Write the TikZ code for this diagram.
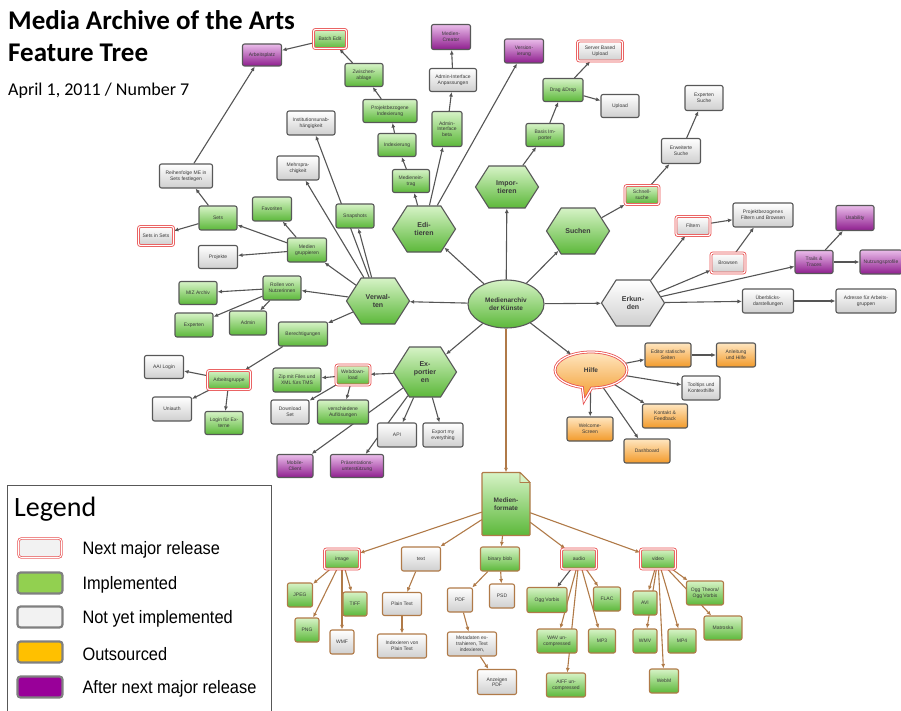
\documentclass[tikz,border=0pt]{standalone}
\usepackage{fontspec}
\usepackage{graphicx}
\setmainfont{Carlito}
\newfontfamily\arialf{Liberation Sans}
\usetikzlibrary{shapes.symbols,shapes.callouts,shapes.geometric,arrows.meta,backgrounds}
\definecolor{grtop}{HTML}{D6F3C6}
\definecolor{grbot}{HTML}{5CB83A}
\definecolor{gybot}{HTML}{CFCFCF}
\definecolor{putop}{HTML}{EABCEA}
\definecolor{pubot}{HTML}{8E1E8E}
\definecolor{ogtop}{HTML}{FFE6C0}
\definecolor{ogbot}{HTML}{F29A2A}
\definecolor{bordc}{HTML}{585858}
\definecolor{edgec}{HTML}{555555}
\definecolor{brc}{HTML}{B07A48}
\definecolor{nxred}{HTML}{E84E4E}
\definecolor{txtc}{HTML}{3A3A3A}
\definecolor{lggreen}{HTML}{92D050}
\definecolor{lggray}{HTML}{F2F2F2}
\definecolor{lgorange}{HTML}{FFC000}
\definecolor{lgpurple}{HTML}{990099}
\definecolor{lgbord}{HTML}{808080}
\begin{document}
\begin{tikzpicture}[x=1pt,y=-1pt,
  box/.style={rectangle, rounded corners=2pt, draw=bordc, line width=1.1pt,
    minimum width=38pt, minimum height=23pt, inner sep=0.5pt, align=center,
    font=\arialf\fontsize{5}{5.6}\selectfont, text=txtc},
  gr/.style={box, top color=grtop, bottom color=grbot},
  gy/.style={box, top color=white, bottom color=gybot},
  pu/.style={box, top color=putop, bottom color=pubot},
  og/.style={box, top color=ogtop, bottom color=ogbot},
  nx/.style={draw=nxred, double=white, double distance=1.2pt, line width=0.8pt},
  bb/.style={draw=brc},
  hex/.style={signal, signal to=east and west, signal pointer angle=115,
    draw=bordc, line width=1.1pt, top color=grtop, bottom color=grbot,
    font=\arialf\bfseries\fontsize{7}{8}\selectfont, align=center, inner sep=0pt,
    text=txtc, minimum width=63pt, minimum height=46pt},
  ar/.style={-{Latex[length=4.5pt,width=4pt]}, line width=1.1pt, draw=edgec},
  ab/.style={ar, draw=brc},
  lgbox/.style={rectangle, rounded corners=3pt, minimum width=45pt, minimum height=21pt, line width=2.2pt, draw=lgbord},
  lgtext/.style={anchor=west, font=\arialf\fontsize{18}{18}\selectfont, text=black}
]
\useasboundingbox (0,0) rectangle (901,711);

% title
\node[anchor=base west, font=\bfseries\fontsize{27}{27}\selectfont, inner sep=0pt] (t1) at (8,30) {Media Archive of the Arts};
\node[anchor=base west, font=\bfseries\fontsize{27}{27}\selectfont, inner sep=0pt] (t2) at (8,62) {Feature Tree};
\node[anchor=base west, font=\fontsize{18}{18}\selectfont, inner sep=0pt] (t3) at (8,96) {April 1, 2011 / Number 7};

% root
\node[ellipse, draw=bordc, line width=1.1pt, top color=grtop, bottom color=grbot, minimum width=76pt, minimum height=48pt, inner sep=0pt, align=center, font=\arialf\bfseries\fontsize{6.5}{8}\selectfont, text=txtc] (root) at (506,304) {Medienarchiv\\der Künste};

% hexagons
\node[hex] (edi) at (424,229) {Edi-\\tieren};
\node[hex, minimum height=42pt] (imp) at (507,187) {Impor-\\tieren};
\node[hex] (such) at (578,231) {Suchen};
\node[hex] (verw) at (378,301) {Verwal-\\ten};
\node[hex, top color=white, bottom color=gybot] (erk) at (633,303) {Erkun-\\den};
\node[hex, minimum height=50pt] (exp) at (425,372) {Ex-\\portier\\en};

% Editieren branch
\node[gr, minimum width=37pt] (medein) at (411,181) {Medienein-\\trag};
\node[gr] (index) at (397,145) {Indexierung};
\node[gr, minimum width=54pt] (pindex) at (390,111) {Projektbezogene\\Indexierung};
\node[gr] (zwab) at (364,75) {Zwischen-\\ablage};
\node[gr, nx, minimum width=33pt, minimum height=19pt] (batch) at (330,39) {Batch Edit};
\node[pu, minimum width=39pt, minimum height=22pt] (arbpl) at (262,55) {Arbeitsplatz};
\node[gr, minimum width=30pt, minimum height=35pt] (aib) at (447,129) {Admin-\\Interface\\beta};
\node[gy, minimum width=47pt] (aia) at (453,80) {Admin-Interface\\Anpassungen};
\node[pu, minimum width=39pt, minimum height=25pt] (mcr) at (451,37) {Medien-\\Creator};
\node[pu, minimum width=39pt, minimum height=24pt] (vers) at (524,51) {Version-\\ierung};

% Importieren branch
\node[gr] (basis) at (545,135) {Basis Im-\\porter};
\node[gr, minimum width=40pt] (dnd) at (563,90) {Drag \&Drop};
\node[gy, nx, minimum width=45pt, minimum height=20pt] (sbu) at (600,51) {Server Based\\Upload};
\node[gy] (upl) at (620,106) {Upload};

% Suchen branch
\node[gr, nx, minimum width=34pt, minimum height=19pt] (schnell) at (642,195) {Schnell-\\suche};
\node[gy, minimum width=39pt, minimum height=25pt] (erw) at (681,151) {Erweiterte\\Suche};
\node[gy, minimum height=25pt] (expsu) at (704,98) {Experten\\Suche};

% Erkunden branch
\node[gy, nx, minimum width=34pt, minimum height=19pt] (filt) at (693,226) {Filtern};
\node[gy, minimum width=60pt, minimum height=24pt] (pfb) at (763,215) {Projektbezogenes\\Filtern und Browsen};
\node[gy, nx, minimum width=34pt, minimum height=20pt] (brow) at (728,263) {Browsen};
\node[pu] (trails) at (814,262) {Trails \&\\Traces};
\node[pu, minimum height=25pt] (usab) at (855,218) {Usability};
\node[pu, minimum width=42pt, minimum height=24pt] (nutz) at (881,262) {Nutzungsprofile};
\node[gy, minimum width=51pt, minimum height=24pt] (ueb) at (768,301) {Überblicks-\\darstellungen};
\node[gy, minimum width=60pt, minimum height=24pt] (adr) at (866,301) {Adresse für Arbeits-\\gruppen};

% Verwalten branch
\node[gr, minimum height=24pt] (snap) at (355,216) {Snapshots};
\node[gy, minimum width=42pt, minimum height=24pt] (mehr) at (298,168) {Mehrspra-\\chigkeit};
\node[gy, minimum width=48pt, minimum height=24pt] (inst) at (311,123) {Institutionsunab-\\hängigkeit};
\node[gr, minimum width=39pt, minimum height=24pt] (medgr) at (307,250) {Medien\\gruppieren};
\node[gr, minimum width=39pt, minimum height=24pt] (fav) at (272,209) {Favoriten};
\node[gr, minimum height=24pt] (sets) at (218,218) {Sets};
\node[gy, nx, minimum width=35pt, minimum height=19pt] (setsin) at (156,236) {Sets in Sets};
\node[gy, minimum width=53pt, minimum height=24pt] (reih) at (186,176) {Reihenfolge ME in\\Sets festlegen};
\node[gy, minimum width=39pt] (proj) at (218,257) {Projekte};
\node[gr, minimum height=24pt] (rollen) at (282,288) {Rollen von\\Nutzerinnen};
\node[gr] (miz) at (198,293) {MIZ Archiv};
\node[gr, minimum height=24pt] (expt) at (194,325) {Experten};
\node[gr, minimum width=37pt, minimum height=24pt] (admin) at (248,323) {Admin};
\node[gr, minimum width=49pt, minimum height=24pt] (berech) at (303,334) {Berechtigungen};
\node[gr, nx, minimum width=43pt, minimum height=19pt] (arbgr) at (229,380) {Arbeitsgruppe};
\node[gy, minimum width=39pt] (aai) at (164,367) {AAI Login};
\node[gy, minimum width=39pt, minimum height=24pt] (umauth) at (172,409) {Uniauth};
\node[gr] (lext) at (224,423) {Login für Ex-\\terne};

% Exportieren branch
\node[gr, nx, minimum width=34pt, minimum height=20pt] (webdl) at (353,375) {Webdown-\\load};
\node[gr, minimum width=48pt, minimum height=24pt] (zip) at (297,380) {Zip mit Files und\\XML fürs TMS};
\node[gy, minimum height=24pt] (dlset) at (290,412) {Download\\Set};
\node[gr, minimum width=51pt, minimum height=24pt] (vaufl) at (343,412) {verschiedene\\Auflösungen};
\node[gy, minimum width=39pt, minimum height=24pt] (api) at (397,435) {API};
\node[gy, minimum width=40pt, minimum height=24pt] (expme) at (443,435) {Export my\\everything};
\node[pu, minimum width=36pt] (mobc) at (295,466) {Mobile-\\Client};
\node[pu, minimum width=53pt] (praes) at (357,466) {Präsentations-\\unterstützung};

% Hilfe branch
\node[ellipse callout, callout absolute pointer={(584,401)}, draw=nxred, double=white, double distance=1.2pt, line width=0.8pt, top color=ogtop, bottom color=ogbot, minimum width=72pt, minimum height=36pt, font=\arialf\bfseries\fontsize{6.5}{8}\selectfont, text=txtc] (hilfe) at (591,370) {Hilfe};
\node[og, minimum width=46pt, minimum height=24pt] (edst) at (668,355) {Editor statische\\Seiten};
\node[og, minimum width=39pt, minimum height=24pt] (anl) at (736,355) {Anleitung\\und Hilfe};
\node[gy, minimum height=24pt] (tool) at (701,388) {Tooltips und\\Kontexthilfe};
\node[og, minimum width=45pt, minimum height=24pt] (kont) at (665,416) {Kontakt \&\\Feedback};
\node[og, minimum width=46pt, minimum height=24pt] (welc) at (590,429) {Welcome-\\Screen};
\node[og, minimum width=46pt, minimum height=24pt] (dash) at (647,451) {Dashboard};

% Medienformate
\path[draw=brc, line width=1.1pt, top color=grtop, bottom color=grbot, rounded corners=1pt]
  (482,535.5) -- (482,472.5) -- (520,472.5) -- (530,482.5) -- (530,535.5) -- cycle;
\path[draw=brc, line width=0.8pt, fill=grtop] (520,472.5) -- (520,482.5) -- (530,482.5) -- cycle;
\node[minimum width=48pt, minimum height=63pt, inner sep=0pt, align=center, font=\arialf\bfseries\fontsize{6.5}{8}\selectfont, text=txtc] (mf) at (506,504) {Medien-\\formate};

\node[gr, nx, minimum width=35pt, minimum height=20pt] (image) at (342,559) {image};
\node[gy, bb, minimum width=39pt, minimum height=24pt] (text) at (421,559) {text};
\node[gr, bb, minimum width=39pt, minimum height=24pt] (blob) at (500,559) {binary blob};
\node[gr, nx, minimum width=35pt, minimum height=20pt] (audio) at (579,559) {audio};
\node[gr, nx, minimum width=35pt, minimum height=20pt] (video) at (658,559) {video};

\node[gr, bb, minimum width=25pt, minimum height=24pt] (jpeg) at (300,595) {JPEG};
\node[gr, bb, minimum width=24pt, minimum height=24pt] (tiff) at (355,604) {TIFF};
\node[gr, bb, minimum width=24pt, minimum height=24pt] (png) at (307,630) {PNG};
\node[gy, bb, minimum width=24pt, minimum height=24pt] (wmf) at (342,642) {WMF};
\node[gy, bb, minimum width=39pt, minimum height=23pt] (plain) at (402,604) {Plain Text};
\node[gy, bb, minimum width=49pt, minimum height=24pt] (idxpt) at (402,646) {Indexieren von\\Plain Text};
\node[gy, bb, minimum width=25pt, minimum height=24pt] (pdf) at (460,600) {PDF};
\node[gy, bb, minimum width=25pt, minimum height=24pt] (psd) at (502,596) {PSD};
\node[gy, bb, minimum width=49pt, minimum height=24pt] (meta) at (472,644) {Metadaten ex-\\trahieren, Text\\indexieren,};
\node[gy, bb, minimum width=39pt, minimum height=25pt] (anzpdf) at (497,682) {Anzeigen\\PDF};
\node[gr, bb, minimum width=40pt, minimum height=25pt] (ogg) at (547,600) {Ogg Vorbis};
\node[gr, bb, minimum width=27pt, minimum height=24pt] (flac) at (607,599) {FLAC};
\node[gr, bb, minimum width=40pt, minimum height=24pt] (wav) at (557,641) {WAV un-\\compressed};
\node[gr, bb, minimum width=27pt, minimum height=24pt] (mp3) at (602,641) {MP3};
\node[gr, bb, minimum width=39pt, minimum height=24pt] (aiff) at (566,685) {AIFF un-\\compressed};
\node[gr, bb, minimum width=24pt, minimum height=24pt] (avi) at (645,603) {AVI};
\node[gr, bb, minimum width=24pt, minimum height=24pt] (wmv) at (645,641) {WMV};
\node[gr, bb, minimum width=28pt, minimum height=24pt] (mp4) at (682,641) {MP4};
\node[gr, bb, minimum width=37pt, minimum height=24pt] (ogt) at (705,593) {Ogg Theora/\\Ogg Vorbis};
\node[gr, bb, minimum width=38pt, minimum height=24pt] (mkv) at (723,628) {Matroska};
\node[gr, bb, minimum width=29pt, minimum height=24pt] (webm) at (664,681) {WebM};

% edges
\begin{pgfonlayer}{background}
\foreach \t in {verw,edi,imp,such,erk,exp,hilfe} \draw[ar] (root) -- (\t);
\draw[ab] (root) -- (mf);
\foreach \t in {medein,aib,vers} \draw[ar] (edi) -- (\t);
\draw[ar] (medein) -- (index);
\draw[ar] (index) -- (pindex);
\draw[ar] (pindex) -- (zwab);
\draw[ar] (zwab) -- (batch);
\draw[ar] (batch) -- (arbpl);
\draw[ar] (aib) -- (aia);
\draw[ar] (aia) -- (mcr);
\draw[ar] (imp) -- (basis);
\draw[ar] (basis) -- (dnd);
\draw[ar] (dnd) -- (sbu);
\draw[ar] (dnd) -- (upl);
\draw[ar] (such) -- (schnell);
\draw[ar] (schnell) -- (erw);
\draw[ar] (erw) -- (expsu);
\foreach \t in {filt,brow,trails,ueb} \draw[ar] (erk) -- (\t);
\draw[ar] (filt) -- (pfb);
\draw[ar] (brow) -- (pfb);
\draw[ar] (trails) -- (usab);
\draw[ar] (trails) -- (nutz);
\draw[ar] (ueb) -- (adr);
\foreach \t in {snap,mehr,inst,medgr,rollen,berech} \draw[ar] (verw) -- (\t);
\foreach \t in {fav,sets,proj} \draw[ar] (medgr) -- (\t);
\draw[ar] (sets) -- (setsin);
\draw[ar] (sets) -- (reih);
\draw[ar] (reih) -- (arbpl);
\foreach \t in {miz,expt,admin} \draw[ar] (rollen) -- (\t);
\draw[ar] (berech) -- (arbgr);
\foreach \t in {aai,umauth,lext} \draw[ar] (arbgr) -- (\t);
\foreach \t in {webdl,mobc,api,expme,praes} \draw[ar] (exp) -- (\t);
\foreach \t in {zip,dlset,vaufl} \draw[ar] (webdl) -- (\t);
\draw[ar] (hilfe) -- (edst);
\draw[ar] (edst) -- (anl);
\foreach \t in {tool,kont,dash,welc} \draw[ar] (hilfe) -- (\t);
\foreach \t in {image,text,blob,audio,video} \draw[ab] (mf) -- (\t);
\foreach \t in {jpeg,png,wmf,tiff} \draw[ab] (image) -- (\t);
\draw[ab] (text) -- (plain);
\draw[ab] (plain) -- (idxpt);
\draw[ab] (blob) -- (pdf);
\draw[ab] (blob) -- (psd);
\draw[ab] (pdf) -- (meta);
\draw[ab] (meta) -- (anzpdf);
\draw[ar] (audio) -- (ogg);
\foreach \t in {wav,aiff,mp3,flac} \draw[ab] (audio) -- (\t);
\foreach \t in {avi,wmv,webm,mp4,ogt,mkv} \draw[ab] (video) -- (\t);
\end{pgfonlayer}

% legend
\draw[draw=bordc, line width=0.8pt] (7,712) -- (7,485) -- (271,485) -- (271,712);
\node[anchor=base west, font=\fontsize{28}{28}\selectfont, inner sep=0pt] (lgt) at (14,516) {Legend};
\node[lgbox, draw=nxred, double=white, double distance=1pt, line width=0.7pt, fill=lggray, minimum width=43pt, minimum height=19pt] (lg1) at (40,548) {};
\node[lgbox, fill=lggreen] (lg2) at (40,583) {};
\node[lgbox, fill=lggray] (lg3) at (40,617) {};
\node[lgbox, fill=lgorange] (lg4) at (40,652) {};
\node[lgbox, fill=lgpurple] (lg5) at (40,687) {};
\node[lgtext] (lt1) at (79,550) {\scalebox{0.91}[1]{Next major release}};
\node[lgtext] (lt2) at (79,585) {\scalebox{0.91}[1]{Implemented}};
\node[lgtext] (lt3) at (79,619) {\scalebox{0.91}[1]{Not yet implemented}};
\node[lgtext] (lt4) at (79,654) {\scalebox{0.91}[1]{Outsourced}};
\node[lgtext] (lt5) at (79,689) {\scalebox{0.91}[1]{After next major release}};
\end{tikzpicture}
\end{document}
